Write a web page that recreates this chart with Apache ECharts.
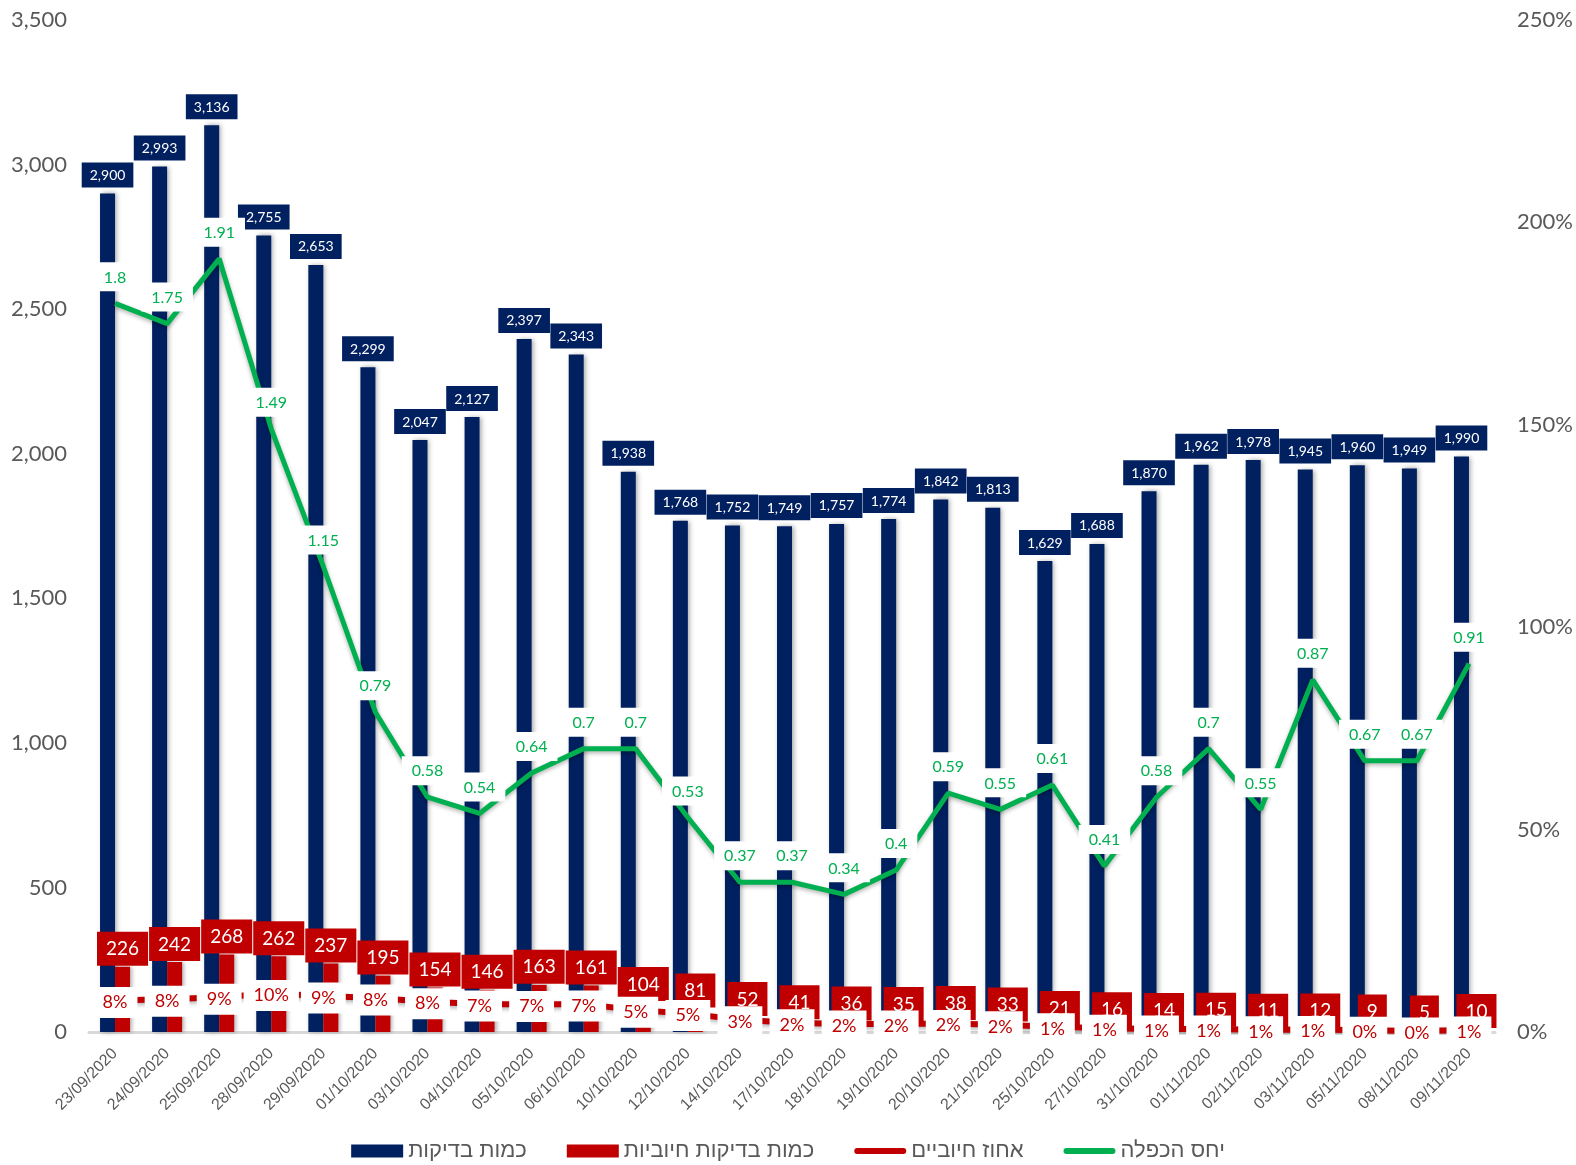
<!DOCTYPE html>
<html>
<head>
<meta charset="utf-8">
<script src="https://cdn.jsdelivr.net/npm/echarts@6/dist/echarts.min.js"></script>
<style>html,body{margin:0;padding:0;background:#fff}#c{width:1576px;height:1165px}</style>
</head>
<body>
<div id="c"></div>
<script>
const categories = ['23/09/2020','24/09/2020','25/09/2020','28/09/2020','29/09/2020','01/10/2020','03/10/2020','04/10/2020','05/10/2020','06/10/2020','10/10/2020','12/10/2020','14/10/2020','17/10/2020','18/10/2020','19/10/2020','20/10/2020','21/10/2020','25/10/2020','27/10/2020','31/10/2020','01/11/2020','02/11/2020','03/11/2020','05/11/2020','08/11/2020','09/11/2020'];
const tests = [2900,2993,3136,2755,2653,2299,2047,2127,2397,2343,1938,1768,1752,1749,1757,1774,1842,1813,1629,1688,1870,1962,1978,1945,1960,1949,1990];
const positives = [226,242,268,262,237,195,154,146,163,161,104,81,52,41,36,35,38,33,21,16,14,15,11,12,9,5,10];
const positivePct = [0.078,0.081,0.086,0.095,0.089,0.084,0.075,0.069,0.068,0.069,0.054,0.046,0.030,0.023,0.020,0.020,0.021,0.018,0.013,0.009,0.0075,0.0076,0.0056,0.0062,0.0046,0.0026,0.0051];
const ratio = [1.8,1.75,1.91,1.49,1.15,0.79,0.58,0.54,0.64,0.7,0.7,0.53,0.37,0.37,0.34,0.4,0.59,0.55,0.61,0.41,0.58,0.7,0.55,0.87,0.67,0.67,0.91];
const leftTicks = {min:0, max:3500, interval:500};
const rightTicks = {min:0, max:2.5, interval:0.5};
const names = ['כמות בדיקות','כמות בדיקות חיוביות','אחוז חיוביים','יחס הכפלה'];

const NAVY = '#002060', RED = '#C00000', GREEN = '#00B050', GRAY = '#595959';
const LINE_ICON = 'path://M0,0 L0.01,0 L0,0.01 Z M0,13 L0.01,13 L0,12.99 Z M3,3.5 L49,3.5 A3,3 0 0 1 49,9.5 L3,9.5 A3,3 0 0 1 3,3.5 Z M52,0 L51.99,0 L52,0.01 Z';
const chart = echarts.init(document.getElementById('c'));
chart.setOption({
  animation:false,
  backgroundColor:'#fff',
  grid:{left:89, right:81, top:20, bottom:133, containLabel:false, outerBoundsMode:'none'},
  legend:{
    bottom:-2, left:'center', itemGap:40, itemWidth:52, itemHeight:13,
    textStyle:{fontSize:22, color:GRAY, fontFamily:'Liberation Sans, DejaVu Sans, sans-serif'},
    data:[{name:names[0], icon:'rect'},{name:names[1], icon:'rect'},
          {name:names[2], icon:LINE_ICON, itemStyle:{color:RED}},
          {name:names[3], icon:LINE_ICON, itemStyle:{color:GREEN}}]
  },
  xAxis:{
    type:'category', data:categories,
    axisTick:{show:false},
    axisLine:{lineStyle:{color:'#D9D9D9', width:3}},
    axisLabel:{interval:0, rotate:45, fontSize:16, color:GRAY, margin:19, overflow:'none',
      hideOverlap:false, fontFamily:'Liberation Sans, Arial, sans-serif'}
  },
  yAxis:[
    {type:'value', min:leftTicks.min, max:leftTicks.max, interval:leftTicks.interval,
     splitLine:{show:false}, axisLine:{show:false}, axisTick:{show:false},
     axisLabel:{fontSize:22, color:GRAY, margin:22, fontFamily:'Lato, sans-serif',
       formatter:v=>v.toLocaleString('en-US')}},
    {type:'value', min:rightTicks.min, max:rightTicks.max, interval:rightTicks.interval,
     splitLine:{show:false}, axisLine:{show:false}, axisTick:{show:false},
     axisLabel:{fontSize:22, color:GRAY, margin:22, fontFamily:'Lato, sans-serif',
       formatter:v=>Math.round(v*100)+'%'}}
  ],
  series:[
    {name:names[0], type:'bar', data:tests, barWidth:15, barGap:'0%', z:2,
     itemStyle:{color:NAVY, shadowBlur:5, shadowColor:'rgba(0,0,0,0.35)', shadowOffsetX:2},
     label:{show:true, position:'top', distance:6, color:'#fff', backgroundColor:NAVY,
       fontSize:14, padding:[6,8,5,8], fontFamily:'Lato, sans-serif',
       formatter:p=>p.value.toLocaleString('en-US')}},
    {name:names[1], type:'bar', data:positives, barWidth:15, barGap:'0%', z:3,
     itemStyle:{color:RED, shadowBlur:4, shadowColor:'rgba(0,0,0,0.3)', shadowOffsetX:2},
     label:{show:true, position:'top', distance:1, color:'#fff', backgroundColor:RED,
       fontSize:19, padding:[8,9,7,9], fontFamily:'Lato, sans-serif'}},
    {name:names[2], type:'line', yAxisIndex:1, data:positivePct, z:5,
     symbol:'circle', symbolSize:0.01, showSymbol:true,
     lineStyle:{color:RED, width:6, shadowBlur:4, shadowColor:'rgba(0,0,0,0.3)', shadowOffsetY:2},
     itemStyle:{color:RED},
     label:{show:true, position:'inside', offset:[0,2], color:RED, backgroundColor:'#fff', fontSize:18,
       padding:[7,10,6,10], fontFamily:'Lato, sans-serif',
       formatter:p=>(p.value*100).toFixed(0)+'%'}},
    {name:names[3], type:'line', yAxisIndex:1, data:ratio, z:6,
     symbol:'circle', symbolSize:0.01, showSymbol:true,
     lineStyle:{color:GREEN, width:5, shadowBlur:4, shadowColor:'rgba(0,0,0,0.3)', shadowOffsetY:2},
     itemStyle:{color:GREEN},
     label:{show:true, position:'top', distance:12, color:GREEN, backgroundColor:'#fff', fontSize:16,
       padding:[7,10,6,10], fontFamily:'Lato, sans-serif'}}
  ]
});
</script>
</body>
</html>
